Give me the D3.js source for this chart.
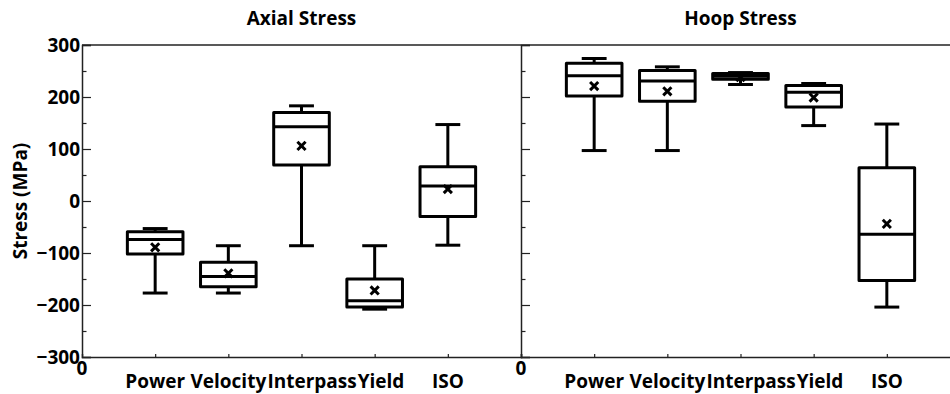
<!DOCTYPE html>
<html>
<head>
<meta charset="utf-8">
<script src="https://cdn.jsdelivr.net/npm/d3@7"></script>
<style>
  body { margin: 0; background: #fff; }
  svg { display: block; font-family: "Open Sans", sans-serif; font-weight: 700; }
</style>
</head>
<body>
<script>
// Data
const categories = ["Power", "Velocity", "Interpass", "Yield", "ISO"];

const axialMin  = [-177, -177, -86, -208, -85];
const axialQ1   = [-102, -165, 69, -204, -30];
const axialMed  = [-74, -145, 143, -192, 29];
const axialQ3   = [-59, -118, 170, -150, 66];
const axialMax  = [-53, -86, 183, -86, 147];
const axialMean = [-89, -139, 106, -172, 23];

const hoopMin  = [97, 97, 224, 145, -204];
const hoopQ1   = [202, 192, 234, 181, -153];
const hoopMed  = [241, 231, 240, 209, -64];
const hoopQ3   = [265, 251, 245, 222, 64];
const hoopMax  = [274, 258, 247, 226, 148];
const hoopMean = [221, 211, 238, 199, -44];

const yTicks = [-300, -200, -100, 0, 100, 200, 300];
const yMinorTicks = [-250, -150, -50, 50, 150, 250];

let width = 950, height = 394;
let margin = { top: 45, bottom: 37, left: 82 };
let panelWidth = 439;
let fontSize = '19px';

let svg = d3.select('body')
  .append('svg')
  .attr('width', width)
  .attr('height', height);

// Shared y scale
let yScale = d3.scaleLinear()
  .domain([-300, 300])
  .range([height - margin.bottom, margin.top]);

function buildPanel(x0, title, showLabels, mins, q1s, meds, q3s, maxs, means) {
  let xScale = d3.scaleLinear()
    .domain([0, 6])
    .range([x0, x0 + panelWidth]);

  let g = svg.append('g');

  // title
  g.append('text')
    .attr('x', xScale(3))
    .attr('y', 25)
    .attr('text-anchor', 'middle')
    .style('font-size', fontSize)
    .text(title);

  // top frame line
  g.append('line')
    .attr('x1', xScale(0)).attr('x2', xScale(6))
    .attr('y1', yScale(300)).attr('y2', yScale(300))
    .attr('stroke', '#222').attr('stroke-width', 1.5);

  // y axis, ticks pointing inward
  let yAxis = g.append('g')
    .attr('transform', `translate(${xScale(0)},0)`)
    .call(d3.axisLeft(yScale)
      .tickValues(yTicks)
      .tickSize(-9)
      .tickPadding(2)
      .tickFormat(showLabels ? d => String(d).replace('-', '\u2212') : ''));
  yAxis.select('.domain').attr('stroke', '#222').attr('stroke-width', 1.5);
  yAxis.selectAll('.tick line').attr('stroke', '#222').attr('stroke-width', 1.2);
  yAxis.selectAll('.tick text')
    .style('font-size', fontSize)
    .style('font-family', '"Open Sans", sans-serif')
    .style('font-weight', 700)
    .attr('fill', '#000');

  let yMinor = g.append('g')
    .attr('transform', `translate(${xScale(0)},0)`)
    .call(d3.axisLeft(yScale).tickValues(yMinorTicks).tickSize(-4.5).tickFormat(''));
  yMinor.select('.domain').remove();
  yMinor.selectAll('.tick line').attr('stroke', '#222').attr('stroke-width', 1.2);

  // x axis
  let xAxis = g.append('g')
    .attr('transform', `translate(0,${yScale(-300)})`)
    .call(d3.axisBottom(xScale)
      .tickValues(d3.range(1, categories.length + 1))
      .tickSize(-3)
      .tickFormat(''));
  xAxis.select('.domain').attr('stroke', '#222').attr('stroke-width', 1.5);
  xAxis.selectAll('.tick line').attr('stroke', '#222').attr('stroke-width', 1.2);

  g.append('text')
    .attr('x', xScale(0))
    .attr('y', 375)
    .attr('text-anchor', 'middle')
    .style('font-size', fontSize)
    .text('0');

  let labels = g.selectAll('.cat')
    .data(categories)
    .enter()
    .append('text')
    .attr('class', 'cat')
    .attr('x', (d, i) => xScale(i + 1))
    .attr('y', 388)
    .attr('text-anchor', 'middle')
    .style('font-size', fontSize)
    .text(d => d);

  // push labels right so they don't run into each other
  let prevRight = -Infinity;
  labels.each(function() {
    let bb = this.getBBox();
    let shift = Math.max(0, prevRight + 1 - bb.x);
    if (shift > 0) d3.select(this).attr('x', +d3.select(this).attr('x') + shift);
    prevRight = bb.x + bb.width + shift;
  });

  // boxes
  let boxW = xScale(0.76) - xScale(0);
  let capW = xScale(0.34) - xScale(0);

  let boxes = g.selectAll('.box')
    .data(categories)
    .enter()
    .append('g')
    .attr('class', 'box')
    .attr('transform', (d, i) => `translate(${xScale(i + 1)},0)`);

  boxes.append('line')
    .attr('x1', 0).attr('x2', 0)
    .attr('y1', (d, i) => yScale(maxs[i]))
    .attr('y2', (d, i) => yScale(q3s[i]));
  boxes.append('line')
    .attr('x1', 0).attr('x2', 0)
    .attr('y1', (d, i) => yScale(q1s[i]))
    .attr('y2', (d, i) => yScale(mins[i]));
  boxes.append('line')
    .attr('x1', -capW / 2).attr('x2', capW / 2)
    .attr('y1', (d, i) => yScale(maxs[i]))
    .attr('y2', (d, i) => yScale(maxs[i]));
  boxes.append('line')
    .attr('x1', -capW / 2).attr('x2', capW / 2)
    .attr('y1', (d, i) => yScale(mins[i]))
    .attr('y2', (d, i) => yScale(mins[i]));
  boxes.append('rect')
    .attr('x', -boxW / 2)
    .attr('width', boxW)
    .attr('y', (d, i) => yScale(q3s[i]))
    .attr('height', (d, i) => yScale(q1s[i]) - yScale(q3s[i]))
    .attr('fill', 'none');
  boxes.append('line')
    .attr('x1', -boxW / 2).attr('x2', boxW / 2)
    .attr('y1', (d, i) => yScale(meds[i]))
    .attr('y2', (d, i) => yScale(meds[i]));
  boxes.append('path')
    .attr('d', d3.symbol(d3.symbolX).size(45))
    .attr('transform', (d, i) => `translate(0,${yScale(means[i])})`);

  boxes.selectAll('line, rect, path')
    .attr('stroke', '#000')
    .attr('stroke-width', 3)
    .attr('stroke-linejoin', 'round');
}

buildPanel(margin.left, 'Axial Stress', true, axialMin, axialQ1, axialMed, axialQ3, axialMax, axialMean);
buildPanel(margin.left + panelWidth, 'Hoop Stress', false, hoopMin, hoopQ1, hoopMed, hoopQ3, hoopMax, hoopMean);

// y label
svg.append('text')
  .attr('transform', `translate(27,${yScale(0)}) rotate(-90)`)
  .attr('text-anchor', 'middle')
  .style('font-size', fontSize)
  .text('Stress (MPa)');
</script>
</body>
</html>
